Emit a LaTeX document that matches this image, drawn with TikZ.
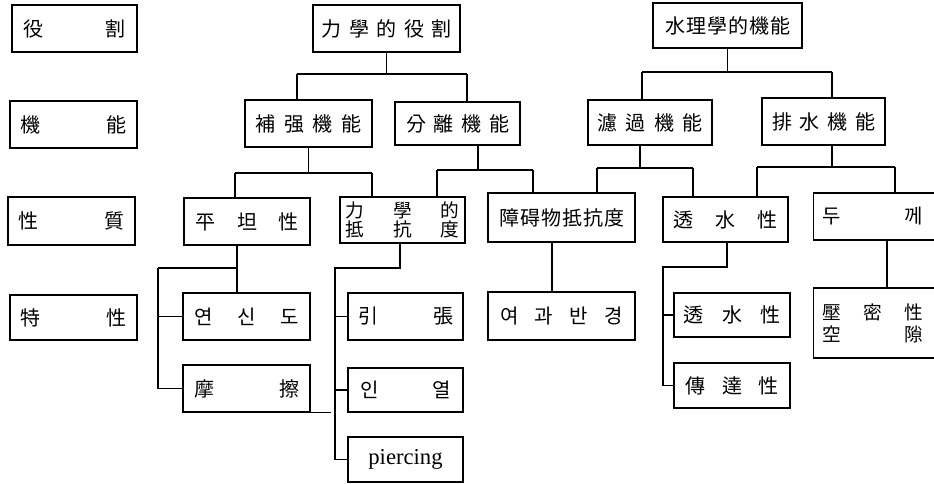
\documentclass[tikz,border=0pt]{standalone}
\usepackage{fontspec}
\newfontfamily\cjk{Noto Sans CJK KR}
\newfontfamily\lat{Liberation Serif}
\newcommand\spr[2]{\makebox[\dimexpr #1pt*3/4\relax][s]{#2}}
\newcommand\bx[6]{\node[bx,minimum width={(#4-#2)*0.75pt},minimum height={(#5-#3)*0.75pt}] (#1) at ({(#2+#4)/2},{(#3+#5)/2}) {#6};}
\tikzset{
  bx/.style={draw,line width=0.8pt,inner sep=0pt,font=\cjk\fontsize{15}{18}\selectfont},
  ln/.style={line width=0.8pt}
}
\begin{document}
\begin{tikzpicture}[x=0.75pt,y=-0.75pt]
\useasboundingbox (0,0) rectangle (934,484);
\clip (0,0) rectangle (934,484);
% left column
\bx{c1}{12}{5}{137}{52}{\spr{102}{役\hfill 割}}
\bx{c2}{10}{101}{137}{148}{\spr{106}{機\hfill 能}}
\bx{c3}{8}{197}{135}{245}{\spr{106}{性\hfill 質}}
\bx{c4}{10}{295}{137}{340}{\spr{106}{特\hfill 性}}
% top
\bx{r1}{313}{5}{460}{52}{\spr{130}{力\hfill 學\hfill 的\hfill 役\hfill 割}}
\bx{r2}{653}{3}{802}{48}{\spr{125}{水\hfill 理\hfill 學\hfill 的\hfill 機\hfill 能}}
% level 2
\bx{f1}{245}{100}{372}{147}{\spr{106}{補\hfill 强\hfill 機\hfill 能}}
\bx{f2}{395}{102}{520}{145}{\spr{103}{分\hfill 離\hfill 機\hfill 能}}
\bx{f3}{588}{100}{712}{145}{\spr{105}{濾\hfill 過\hfill 機\hfill 能}}
\bx{f4}{762}{98}{885}{145}{\spr{103}{排\hfill 水\hfill 機\hfill 能}}
% level 3
\bx{p1}{184}{198}{310}{245}{\spr{103}{平\hfill 坦\hfill 性}}
\node[bx,minimum width={125*0.75pt},minimum height={46*0.75pt},align=center,
  font=\cjk\fontsize{14}{14.5}\selectfont] (p2) at (402.5,220)
  {\spr{114}{力\hfill 學\hfill 的}\\\spr{114}{抵\hfill 抗\hfill 度}};
\bx{p3}{488}{193}{635}{242}{\spr{125}{障\hfill 碍\hfill 物\hfill 抵\hfill 抗\hfill 度}}
\bx{p4}{663}{197}{788}{242}{\spr{104}{透\hfill 水\hfill 性}}
\node[bx,minimum height={47*0.75pt},anchor=west] (p5) at (813,216.5)
  {\makebox[\dimexpr 147pt*3/4\relax][l]{\hspace{7pt}\spr{100}{두\hfill 께}}};
% level 4
\bx{q1}{183}{293}{310}{340}{\spr{105}{연\hfill 신\hfill 도}}
\bx{q2}{183}{365}{310}{412}{\spr{105}{摩\hfill 擦}}
\bx{q3}{348}{293}{463}{340}{\spr{95}{引\hfill 張}}
\bx{q4}{348}{368}{463}{412}{\spr{90}{인\hfill 열}}
\node[bx,minimum width={115*0.75pt},minimum height={45*0.75pt},font=\lat\fontsize{17}{20}\selectfont] (q5) at (405.5,459.5) {piercing};
\bx{q6}{488}{292}{635}{340}{\spr{123}{여\hfill 과\hfill 반\hfill 경}}
\bx{q7}{674}{293}{790}{337}{\spr{97}{透\hfill 水\hfill 性}}
\bx{q8}{674}{363}{790}{408}{\spr{93}{傳\hfill 達\hfill 性}}
\node[bx,text width={147*0.75pt},minimum height={70*0.75pt},anchor=west,align=left,
  font=\cjk\fontsize{14}{16.5}\selectfont] (q9) at (813,323)
  {\hspace*{7pt}\spr{100}{壓\hfill 密\hfill 性}\\\hspace*{7pt}\spr{100}{空\hfill 隙}};
% connectors: r1 -> f1, f2
\coordinate (b1l) at (297,74); \coordinate (b1r) at (467,74);
\draw[ln] (r1.south) -- (r1.south |- b1l);
\draw[ln] (b1l) -- (b1r);
\draw[ln] (b1l) -- (b1l |- f1.north);
\draw[ln] (b1r) -- (b1r |- f2.north);
% r2 -> f3, f4
\coordinate (b2l) at (642,72); \coordinate (b2r) at (832,72);
\draw[ln] (r2.south) -- (r2.south |- b2l);
\draw[ln] (b2l) -- (b2r);
\draw[ln] (b2l) -- (b2l |- f3.north);
\draw[ln] (b2r) -- (b2r |- f4.north);
% f1 -> p1, p2
\coordinate (b3l) at (235,173); \coordinate (b3r) at (372,173);
\draw[ln] (f1.south) -- (f1.south |- b3l);
\draw[ln] (b3l) -- (b3r);
\draw[ln] (b3l) -- (b3l |- p1.north);
\draw[ln] (b3r) -- (b3r |- p2.north);
% f2 -> p2, p3
\coordinate (d2) at (478,170); \coordinate (b4l) at (437,170); \coordinate (b4r) at (533,170);
\draw[ln] (d2 |- f2.south) -- (d2);
\draw[ln] (b4l) -- (b4r);
\draw[ln] (b4l) -- (b4l |- p2.north);
\draw[ln] (b4r) -- (b4r |- p3.north);
% f3 -> p3, p4
\coordinate (d3) at (640,168); \coordinate (b5l) at (597,168); \coordinate (b5r) at (693,168);
\draw[ln] (d3 |- f3.south) -- (d3);
\draw[ln] (b5l) -- (b5r);
\draw[ln] (b5l) -- (b5l |- p3.north);
\draw[ln] (b5r) -- (b5r |- p4.north);
% f4 -> p4, p5
\coordinate (d4) at (832,167); \coordinate (b6l) at (757,167); \coordinate (b6r) at (895,167);
\draw[ln] (d4 |- f4.south) -- (d4);
\draw[ln] (b6l) -- (b6r);
\draw[ln] (b6l) -- (b6l |- p4.north);
\draw[ln] (b6r) -- (b6r |- p5.north);
% p1 -> q1, q2
\coordinate (e1) at (237,268); \coordinate (e1l) at (158,268);
\draw[ln] (e1 |- p1.south) -- (e1 |- q1.north);
\draw[ln] (e1l) -- (e1);
\draw[ln] (e1l) -- (e1l |- q2.west) -- (q2.west);
\draw[ln] (e1l |- q1.west) -- (q1.west);
\draw[ln] (q2.south east) -- ++(20,0);
% p2 -> q3, q4, q5
\coordinate (e2) at (400,268); \coordinate (e2l) at (335,268);
\draw[ln] (e2 |- p2.south) -- (e2) -- (e2l) -- (e2l |- q5.west) -- (q5.west);
\draw[ln] (e2l |- q3.west) -- (q3.west);
\draw[ln] (e2l |- q4.west) -- (q4.west);
% p3 -> q6
\coordinate (e3) at (552,0);
\draw[ln] (e3 |- p3.south) -- (e3 |- q6.north);
% p4 -> q7, q8
\coordinate (e4) at (727,267); \coordinate (e4l) at (663,267);
\draw[ln] (e4 |- p4.south) -- (e4) -- (e4l) -- (e4l |- q8.west) -- (q8.west);
\draw[ln] (e4l |- q7.west) -- (q7.west);
% p5 -> q9
\coordinate (e5) at (887,0);
\draw[ln] (e5 |- p5.south) -- (e5 |- q9.north);
\end{tikzpicture}
\end{document}
